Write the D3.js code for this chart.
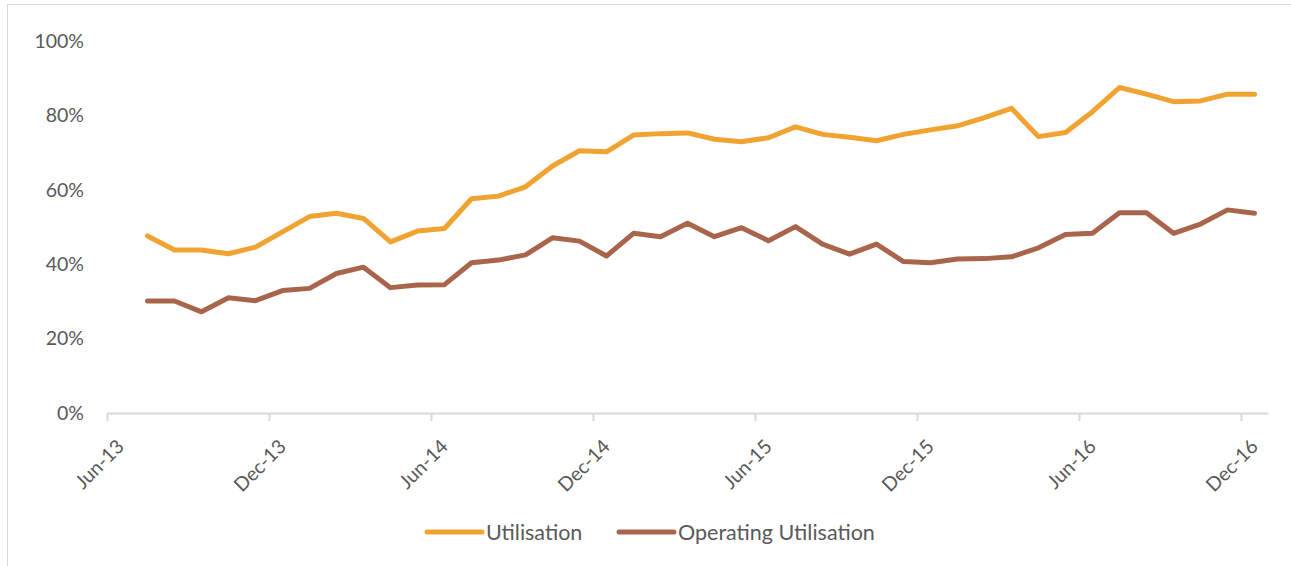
<!DOCTYPE html>
<html>
<head>
<meta charset="utf-8">
<script src="https://cdn.jsdelivr.net/npm/d3@7"></script>
<style>
  body { margin: 0; background: #fff; }
  text { font-family: Lato, "Open Sans", sans-serif; fill: #595959; }
</style>
</head>
<body>
<div id="chart"></div>
<script>
// monthly categories, Jun-13 is the first (empty) slot on the axis
var months = ["Jul-13","Aug-13","Sep-13","Oct-13","Nov-13","Dec-13",
              "Jan-14","Feb-14","Mar-14","Apr-14","May-14","Jun-14",
              "Jul-14","Aug-14","Sep-14","Oct-14","Nov-14","Dec-14",
              "Jan-15","Feb-15","Mar-15","Apr-15","May-15","Jun-15",
              "Jul-15","Aug-15","Sep-15","Oct-15","Nov-15","Dec-15",
              "Jan-16","Feb-16","Mar-16","Apr-16","May-16","Jun-16",
              "Jul-16","Aug-16","Sep-16","Oct-16","Nov-16","Dec-16"];
var utilisation = [47.6,43.8,43.8,42.8,44.6,48.7,52.8,53.7,52.3,46.0,48.9,49.6,
                   57.6,58.3,60.8,66.4,70.5,70.2,74.7,75.1,75.3,73.6,72.9,74.0,
                   76.9,74.9,74.1,73.2,74.9,76.1,77.2,79.4,81.9,74.3,75.4,81.0,
                   87.5,85.7,83.7,83.9,85.7,85.7];
var operating = [30.1,30.1,27.2,31.0,30.2,32.9,33.5,37.5,39.2,33.7,34.4,34.5,
                 40.4,41.1,42.5,47.1,46.2,42.2,48.3,47.4,51.0,47.4,49.8,46.3,
                 50.1,45.4,42.7,45.4,40.7,40.4,41.4,41.5,42.0,44.4,48.0,48.3,
                 53.8,53.8,48.3,50.8,54.6,53.7];
var xTickLabels = ["Jun-13","Dec-13","Jun-14","Dec-14","Jun-15","Dec-15","Jun-16","Dec-16"];
var yTicks = [0, 20, 40, 60, 80, 100];
var seriesNames = ["Utilisation", "Operating Utilisation"];
var colors = ["#F0A330", "#A8654C"];

var width = 1291, height = 566;
var x0 = 107, x1 = 1268, yTop = 41, yBottom = 413;

var svg = d3.select("#chart").append("svg")
    .attr("width", width).attr("height", height);

// chart area border
svg.append("rect")
    .attr("x", 7.5).attr("y", 4.5)
    .attr("width", width + 20).attr("height", height + 20)
    .attr("fill", "none").attr("stroke", "#d9d9d9");

// one slot per month, Jun-13 .. Dec-16
var nSlots = months.length + 1;
var x = d3.scaleLinear().domain([0, nSlots]).range([x0, x1]);
var y = d3.scaleLinear().domain([0, 100]).range([yBottom, yTop]);

// y labels
svg.append("g").selectAll("text")
    .data(yTicks)
    .enter().append("text")
    .attr("x", 84)
    .attr("y", function(d) { return y(d); })
    .attr("dy", "0.35em")
    .attr("text-anchor", "end")
    .style("font-size", "19.5px")
    .text(function(d) { return d + "%"; });

// x axis
var xAxis = d3.axisBottom(x)
    .tickValues(xTickLabels.map(function(d, i) { return i * 6; }))
    .tickFormat(function(d, i) { return xTickLabels[i]; })
    .tickSize(8)
    .tickSizeOuter(0);

var gx = svg.append("g")
    .attr("transform", "translate(0," + yBottom + ")")
    .call(xAxis);
gx.select(".domain").attr("stroke", "#d9d9d9").attr("stroke-width", 2);
gx.selectAll(".tick line").attr("stroke", "#d9d9d9").attr("stroke-width", 2)
    .attr("y1", 0);
gx.selectAll(".tick text")
    .attr("y", 0).attr("dy", "0.35em")
    .attr("text-anchor", "end")
    .attr("transform", "translate(13,30) rotate(-45)")
    .style("font-size", "19.5px")
    .style("font-family", "Lato, 'Open Sans', sans-serif")
    .attr("fill", "#595959");

var line = d3.line()
    .x(function(d, i) { return x(i + 1.5); })
    .y(function(d) { return y(d); });

[utilisation, operating].forEach(function(s, k) {
    svg.append("path")
        .datum(s)
        .attr("d", line)
        .attr("fill", "none")
        .attr("stroke", colors[k])
        .attr("stroke-width", 5)
        .attr("stroke-linejoin", "round")
        .attr("stroke-linecap", "round");
});

// legend
var legendX = [427, 619];
var lg = svg.append("g").attr("transform", "translate(0,532)");
seriesNames.forEach(function(name, k) {
    lg.append("line")
        .attr("x1", legendX[k]).attr("x2", legendX[k] + 55)
        .attr("stroke", colors[k]).attr("stroke-width", 5)
        .attr("stroke-linecap", "round");
    lg.append("text")
        .attr("x", legendX[k] + 59)
        .attr("dy", "0.35em")
        .style("font-size", "21.5px")
        .text(name);
});
</script>
</body>
</html>
